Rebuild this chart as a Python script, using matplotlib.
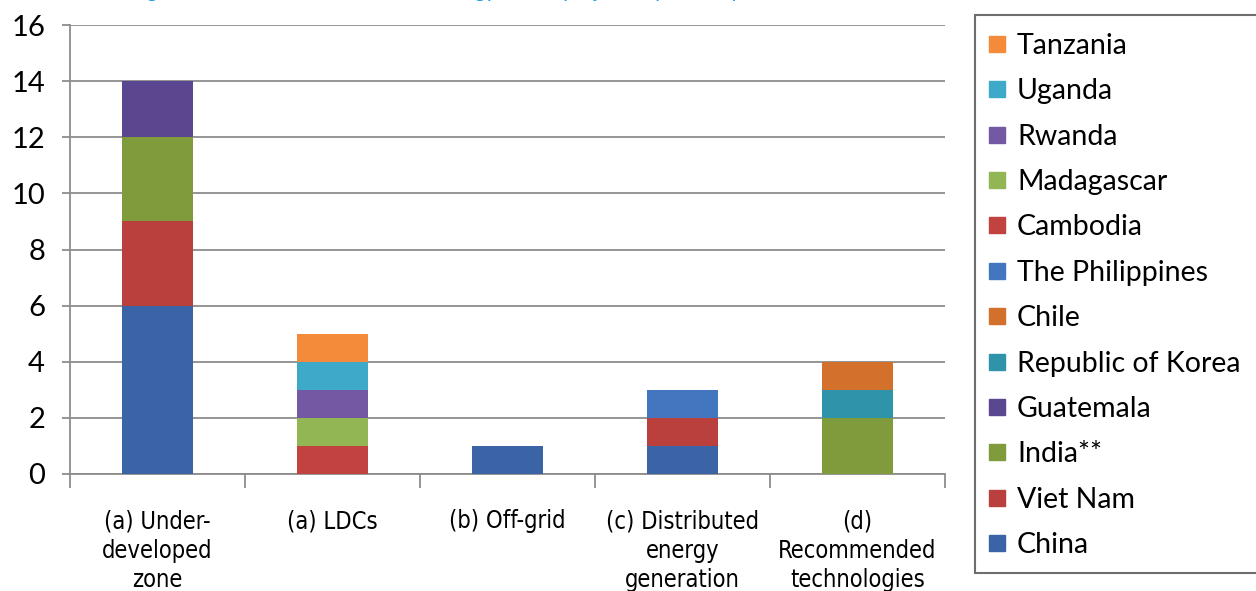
import matplotlib
matplotlib.use("Agg")
import matplotlib.pyplot as plt
from matplotlib.patches import Rectangle
from matplotlib.lines import Line2D

categories = ["(a) Under-\ndeveloped\nzone", "(a) LDCs", "(b) Off-grid",
              "(c) Distributed\nenergy\ngeneration", "(d)\nRecommended\ntechnologies"]

# stacked from the bottom up
countries = ["China", "Viet Nam", "India**", "Guatemala", "Republic of Korea", "Chile",
             "The Philippines", "Cambodia", "Madagascar", "Rwanda", "Uganda", "Tanzania"]

china = [6, 0, 1, 1, 0]
viet_nam = [3, 0, 0, 1, 0]
india = [3, 0, 0, 0, 2]
guatemala = [2, 0, 0, 0, 0]
korea = [0, 0, 0, 0, 1]
chile = [0, 0, 0, 0, 1]
philippines = [0, 0, 0, 1, 0]
cambodia = [0, 1, 0, 0, 0]
madagascar = [0, 1, 0, 0, 0]
rwanda = [0, 1, 0, 0, 0]
uganda = [0, 1, 0, 0, 0]
tanzania = [0, 1, 0, 0, 0]

series = [china, viet_nam, india, guatemala, korea, chile, philippines,
          cambodia, madagascar, rwanda, uganda, tanzania]

colors = ["#3b64a6", "#b9403c", "#7f9b3b", "#5b4690", "#2f93a9", "#d3702b",
          "#4277c0", "#c1423e", "#93b654", "#7558a3", "#3fa9ca", "#f48b3a"]

yticks = [0, 2, 4, 6, 8, 10, 12, 14, 16]

W, H = 1256, 591
fig = plt.figure(figsize=(W / 100, H / 100), dpi=100)
ax = fig.add_axes([70 / W, 1 - 474 / H, 875 / W, 449 / H])

x = list(range(len(categories)))
bottom = [0] * len(categories)
for vals, col in zip(series, colors):
    ax.bar(x, vals, width=0.405, bottom=bottom, color=col, zorder=3)
    bottom = [b + v for b, v in zip(bottom, vals)]

ax.set_xlim(-0.5, len(categories) - 0.5)
ax.set_ylim(0, 16)
ax.set_yticks(yticks)
ax.set_yticklabels([str(t) for t in yticks], fontsize=21, family=["Lato", "DejaVu Sans"])
ax.yaxis.grid(True, color="#8c8c8c", linewidth=1.3, zorder=0)
ax.set_axisbelow(True)

for s in ("top", "right"):
    ax.spines[s].set_visible(False)
for s in ("left", "bottom"):
    ax.spines[s].set_color("#8c8c8c")
    ax.spines[s].set_linewidth(1.3)

# category boundary ticks below the axis
ax.set_xticks([i - 0.5 for i in range(len(categories) + 1)])
ax.set_xticklabels([])
ax.tick_params(axis="x", length=10, color="#8c8c8c", width=1.3)
ax.tick_params(axis="y", length=6, color="#8c8c8c", width=1.3, pad=12)

for i, lab in enumerate(categories):
    ax.text(i, -1.25, lab, ha="center", va="top", fontsize=17,
            family="DejaVu Sans", stretch="condensed", linespacing=1.3,
            transform=ax.transData, clip_on=False)

# caption, cropped by the top edge of the figure
fig.text(130 / W, 1 + 3 / H,
         "Figure 12. Number of renewable energy CTCN projects by country and sub-theme",
         color="#1c9be4", fontsize=15, family=["Lato", "DejaVu Sans"], va="baseline")

# legend box
fig.patches.append(Rectangle((975 / W, 1 - 573 / H), 300 / W, 558 / H,
                             transform=fig.transFigure, facecolor="white",
                             edgecolor="#6e6e6e", linewidth=1.5, zorder=1))

handles = [Line2D([0], [0], marker="s", linestyle="none", markersize=12,
                  markerfacecolor=c, markeredgecolor=c) for c in colors[::-1]]
fig.legend(handles, countries[::-1], loc="upper left",
           bbox_to_anchor=(987 / W, 1 - 33 / H), frameon=False,
           prop={"family": ["Lato", "DejaVu Sans"], "size": 20.5},
           handlelength=0.7, handletextpad=0.35, labelspacing=0.68,
           borderaxespad=0, borderpad=0)

fig.savefig("out.png", dpi=100)
